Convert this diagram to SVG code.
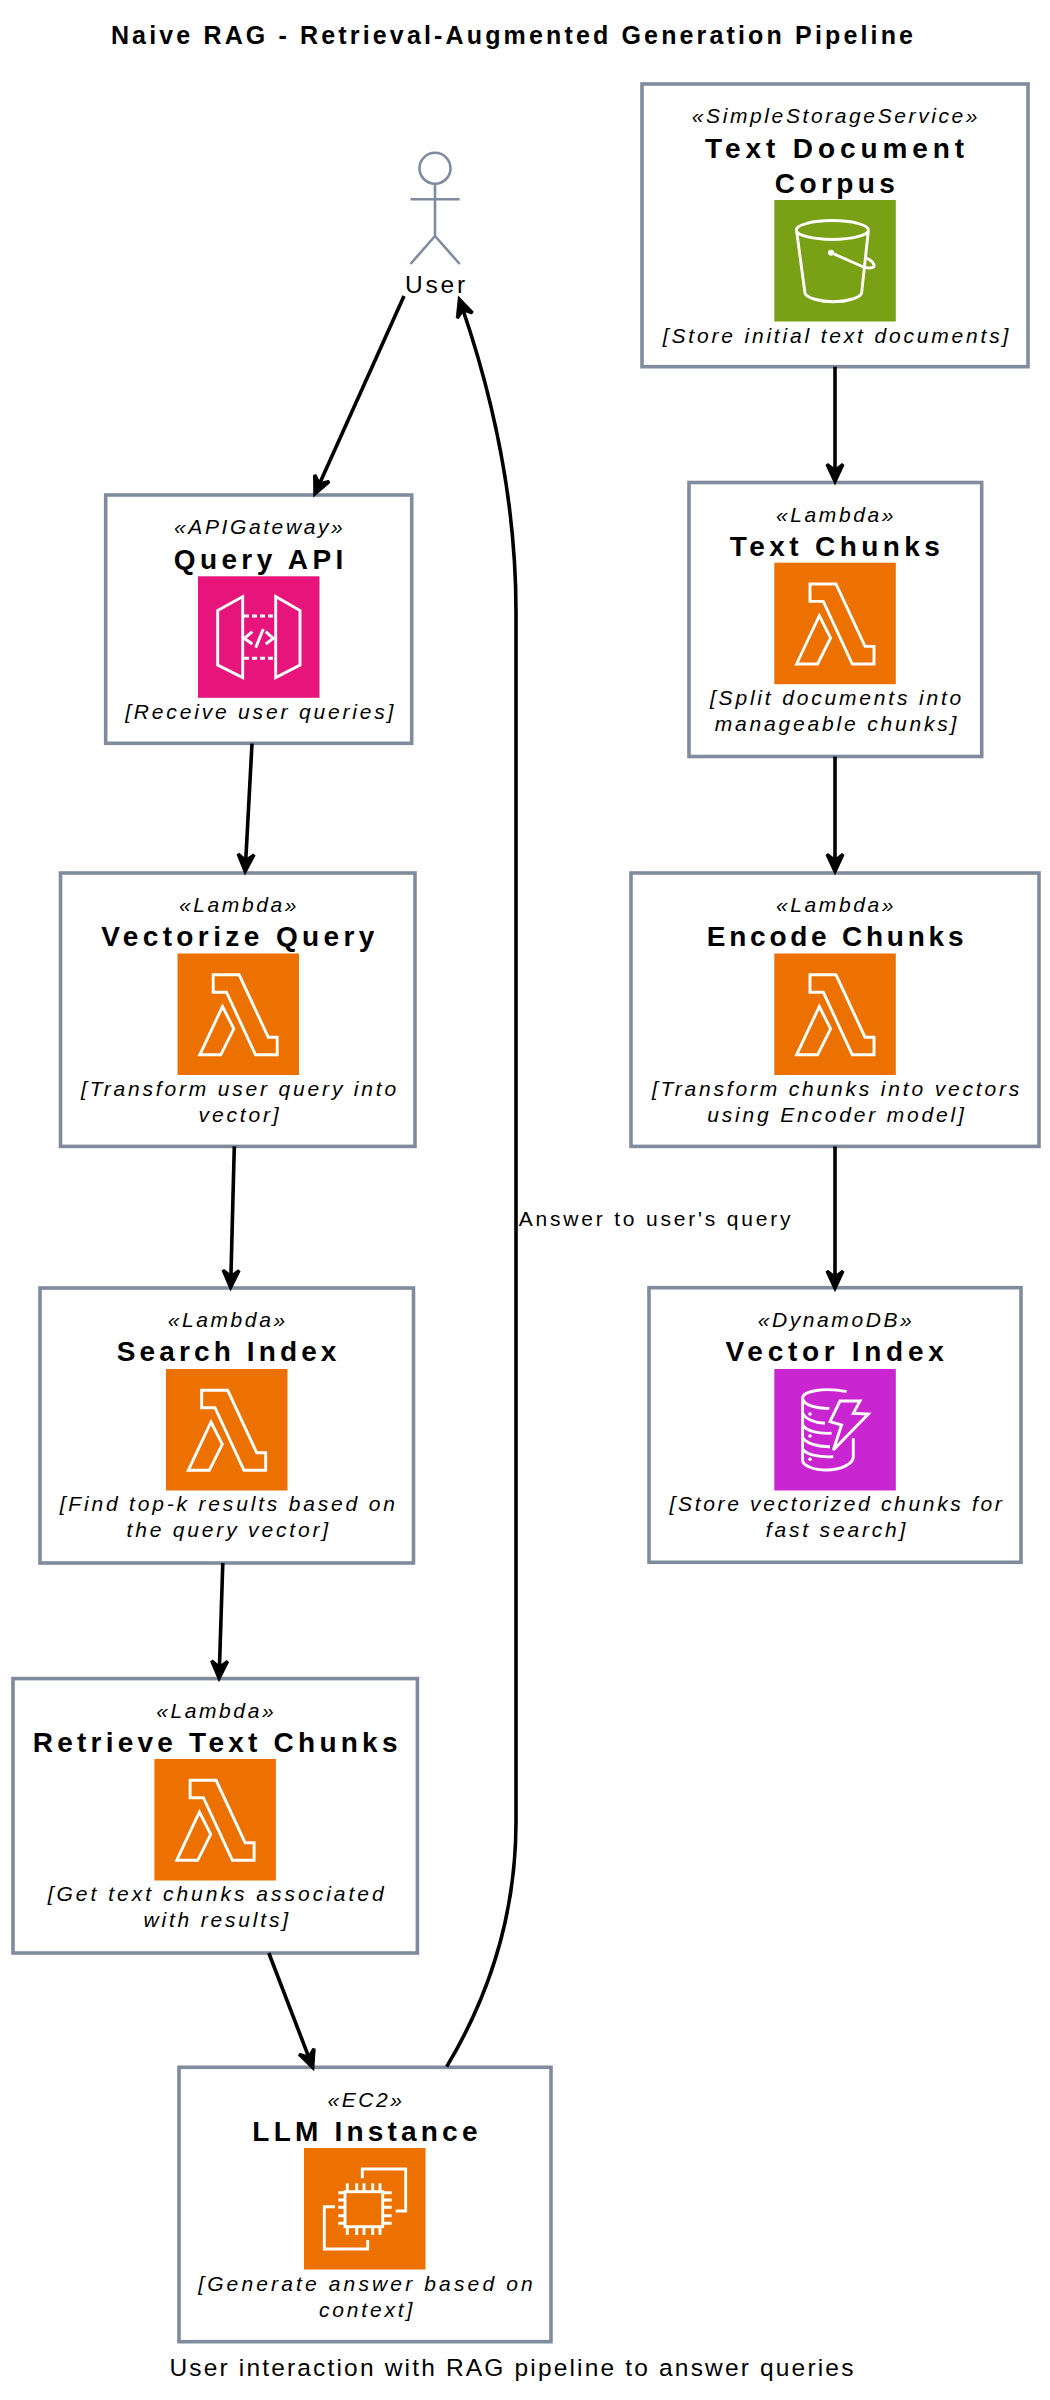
<svg xmlns="http://www.w3.org/2000/svg" xmlns:xlink="http://www.w3.org/1999/xlink" width="1050" height="2400" viewBox="0 0 1050 2400">
<style>
text{font-family:"Liberation Sans",Arial,sans-serif;fill:#000;text-anchor:middle}
.title{font-size:25px;font-weight:700;letter-spacing:3.15px}
.sub{font-size:24.5px;letter-spacing:2.17px}
.actor{font-size:24.5px;letter-spacing:2.8px;transform:translateX(1.5px)}
.edge-label{font-size:21px;letter-spacing:2.8px;transform:translateX(1px)}
.type{font-size:21px;font-style:italic;letter-spacing:2.6px;transform:translateX(1px)}
.label{font-size:28px;font-weight:700;letter-spacing:4.4px;transform:translateX(2px)}
.desc{font-size:21px;font-style:italic;letter-spacing:2.82px;transform:translateX(2px)}
.box{fill:#fff;stroke:#808c9e;stroke-width:3.6}
.fig{fill:none;stroke:#808c9e;stroke-width:2.6}
.edge{fill:none;stroke:#000;stroke-width:3.6;marker-end:url(#arrow)}
.ic{fill:none;stroke:#fff;stroke-width:2.9;stroke-linejoin:miter}
</style>
<defs>
<marker id="arrow" markerUnits="userSpaceOnUse" markerWidth="30" markerHeight="24" viewBox="0 0 30 24" refX="12" refY="12" orient="auto">
<path d="M22.5,12 L2,2.5 L0,5 L5.5,12 L0,19 L2,21.5 Z" fill="#000"/>
</marker>
<g id="i-lambda">
<rect width="121.5" height="121.5" fill="#ed7100"/>
<path class="ic" d="M35.7,21.3H61.7L90.7,83.7H99.7V101.3H78L49,38.7H35.7Z"/>
<path class="ic" d="M45,53L56.3,75.3L43.3,101.3H22.3Z"/>
</g>
<g id="i-s3">
<rect width="121.5" height="121.5" fill="#7aa116"/>
<ellipse class="ic" cx="58" cy="30" rx="36" ry="9.5"/>
<path class="ic" d="M22.3,31L30.7,93.3C33,98 45,101.7 59,101.7C73,101.7 85,98 87.3,93.3L94,31"/>
<path class="ic" d="M56.7,52.7L88,66.5C95,69 101,68.5 99.5,64.5C98,60.5 92,57.5 90,58"/>
<circle cx="56.7" cy="52.7" r="3" fill="#fff"/>
</g>
<g id="i-api">
<rect width="121.5" height="121.5" fill="#e7157b"/>
<path class="ic" d="M19.7,34.3L44.7,20.3V101.3L19.7,88.7Z"/>
<path class="ic" d="M77.7,20.3L102,34.3V88.7L77.7,101.3Z"/>
<path class="ic" stroke-dasharray="5 3" d="M46,39.7H76M46,82H76"/>
<path class="ic" d="M54.3,55.3L46.3,62L54.3,67.7M65.3,52.7L57.7,71.3M67.7,55.3L75.3,62L67.7,67.7"/>
</g>
<g id="i-ddb">
<rect width="121.5" height="121.5" fill="#c925d1"/>
<path class="ic" d="M72.3,22.7C50,18 28.3,22 28.3,29.3V91C28.3,97 40,101 52.3,101C66,101 79,95 79,87.7V69.3"/>
<path class="ic" d="M28.3,30C30,36 42,40 55,39.3M28.3,44C31,50 40,54 50.7,54.3M28.3,56C32,62 44,65 57.3,64.3M28.3,68C31,74 42,78 55.7,77.7M28.3,80C32,86 46,88.5 59,87.7"/>
<path class="ic" d="M65.7,32H85.7L79,44.3L94,45L59,81L67.3,56L55.7,52.7Z"/>
<circle cx="35.7" cy="45" r="1.8" fill="#fff"/><circle cx="35.7" cy="67" r="1.8" fill="#fff"/><circle cx="35.7" cy="90.3" r="1.8" fill="#fff"/>
</g>
<g id="i-ec2">
<rect width="121.5" height="121.5" fill="#ed7100"/>
<rect class="ic" x="41" y="43.7" width="37.7" height="35"/>
<path class="ic" d="M43.3,35.3V43.7M52.7,35.3V43.7M60,35.3V43.7M68.7,35.3V43.7M76,35.3V43.7M43.3,78.7V87M52.7,78.7V87M60,78.7V87M68.7,78.7V87M76,78.7V87M34.3,44.7H41M34.3,52H41M34.3,59.3H41M34.3,67.7H41M34.3,75.3H41M78.7,44.7H87.7M78.7,52H87.7M78.7,59.3H87.7M78.7,67.7H87.7M78.7,75.3H87.7"/>
<path class="ic" stroke-linejoin="round" d="M58.3,30.3V21H101.7V63H91.7M31,58.7H20.3V101H63.7V92"/>
</g>
</defs>
<rect width="1050" height="2400" fill="#fff"/>
<text class="title" x="513.5" y="44">Naive RAG - Retrieval-Augmented Generation Pipeline</text>
<g id="user">
<circle class="fig" cx="435" cy="168.3" r="15.5"/>
<path class="fig" d="M435,184V236M410.5,199.3H459.7M435,236L410.5,264M435,236L459.7,264"/>
<text class="actor" x="435" y="292.7">User</text>
</g>
<g id="s3">
<rect class="box" x="642" y="84" width="386" height="282.7"/>
<text class="type" x="835" y="123.3">«SimpleStorageService»</text>
<text class="label" x="835" y="157.7" style="letter-spacing:4.9px">Text Document</text>
<text class="label" x="835" y="193.3">Corpus</text>
<use href="#i-s3" x="774.3" y="200"/>
<text class="desc" x="835" y="342.7">[Store initial text documents]</text>
</g>
<g id="text-chunks">
<rect class="box" x="689" y="482.5" width="292.7" height="274"/>
<text class="type" x="835" y="521.8">«Lambda»</text>
<text class="label" x="835" y="556.2">Text Chunks</text>
<use href="#i-lambda" x="774.3" y="562.7"/>
<text class="desc" x="835" y="705">[Split documents into</text>
<text class="desc" x="835" y="731">manageable chunks]</text>
</g>
<g id="encode-chunks">
<rect class="box" x="631" y="873" width="408" height="273.4"/>
<text class="type" x="835" y="912.3">«Lambda»</text>
<text class="label" x="835" y="946" style="letter-spacing:3.76px">Encode Chunks</text>
<use href="#i-lambda" x="774.3" y="953.5"/>
<text class="desc" x="835" y="1095.5">[Transform chunks into vectors</text>
<text class="desc" x="835" y="1121.5">using Encoder model]</text>
</g>
<g id="vector-index">
<rect class="box" x="649" y="1287.7" width="372" height="274.6"/>
<text class="type" x="835" y="1327">«DynamoDB»</text>
<text class="label" x="835" y="1361.4" style="letter-spacing:4.7px">Vector Index</text>
<use href="#i-ddb" x="774.3" y="1369"/>
<text class="desc" x="835" y="1510.7" style="letter-spacing:2.67px">[Store vectorized chunks for</text>
<text class="desc" x="835" y="1537">fast search]</text>
</g>
<g id="query-api">
<rect class="box" x="105.7" y="495" width="306" height="248.3"/>
<text class="type" x="258.7" y="534.3">«APIGateway»</text>
<text class="label" x="258.7" y="568.7">Query API</text>
<use href="#i-api" x="198" y="576.3"/>
<text class="desc" x="258.7" y="718.5">[Receive user queries]</text>
</g>
<g id="vectorize-query">
<rect class="box" x="60.5" y="873" width="354.5" height="273.4"/>
<text class="type" x="238" y="912.3">«Lambda»</text>
<text class="label" x="238" y="946">Vectorize Query</text>
<use href="#i-lambda" x="177.5" y="953.5"/>
<text class="desc" x="238" y="1095.5">[Transform user query into</text>
<text class="desc" x="238" y="1121.5">vector]</text>
</g>
<g id="search-index">
<rect class="box" x="40" y="1288" width="373.5" height="275"/>
<text class="type" x="226.7" y="1327">«Lambda»</text>
<text class="label" x="226.7" y="1361.4" style="letter-spacing:4.12px">Search Index</text>
<use href="#i-lambda" x="166" y="1369"/>
<text class="desc" x="226.7" y="1510.7">[Find top-k results based on</text>
<text class="desc" x="226.7" y="1537">the query vector]</text>
</g>
<g id="retrieve-text-chunks">
<rect class="box" x="13" y="1678.6" width="404.4" height="274.4"/>
<text class="type" x="215.2" y="1717.9">«Lambda»</text>
<text class="label" x="215.2" y="1751.6" style="letter-spacing:4.24px">Retrieve Text Chunks</text>
<use href="#i-lambda" x="154.4" y="1759"/>
<text class="desc" x="215.2" y="1901" style="letter-spacing:3px">[Get text chunks associated</text>
<text class="desc" x="215.2" y="1927">with results]</text>
</g>
<g id="llm-instance">
<rect class="box" x="179" y="2067.3" width="372" height="274.4"/>
<text class="type" x="365" y="2106.6">«EC2»</text>
<text class="label" x="365" y="2141" style="letter-spacing:4.2px">LLM Instance</text>
<use href="#i-ec2" x="304" y="2148"/>
<text class="desc" x="365" y="2290.7" style="letter-spacing:3.14px">[Generate answer based on</text>
<text class="desc" x="365" y="2316.7">context]</text>
</g>
<text class="sub" x="512.5" y="2376">User interaction with RAG pipeline to answer queries</text>
<g id="connectors">
<path class="edge" d="M835,366.7V475"/>
<path class="edge" d="M835,756.6V865"/>
<path class="edge" d="M835,1146.4V1281.7"/>
<path class="edge" d="M404,296L317.6,487.9"/>
<path class="edge" d="M252,743.5L245.5,865"/>
<path class="edge" d="M234.3,1146.4L230.8,1281"/>
<path class="edge" d="M222.8,1563L219.3,1671.7"/>
<path class="edge" d="M268.8,1953L310.4,2061.4"/>
<path class="edge" d="M446.7,2066.7Q516,1951 516,1822V612Q516,464 461.5,305.5"/>
<text class="edge-label" x="655" y="1226">Answer to user's query</text>
</g>
</svg>
